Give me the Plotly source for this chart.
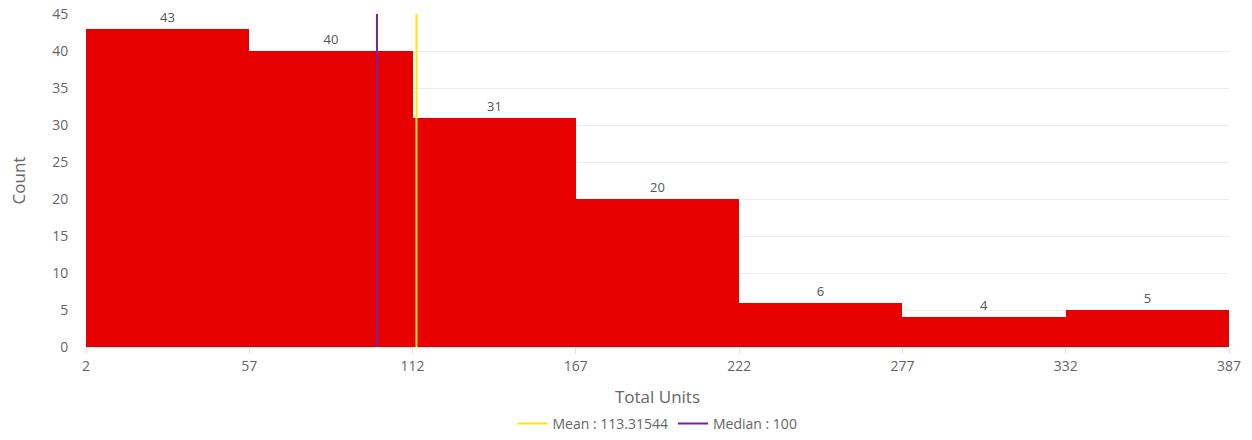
import plotly.graph_objects as go

bin_edges = [2, 57, 112, 167, 222, 277, 332, 387]
counts = [43, 40, 31, 20, 6, 4, 5]
mean_value = 113.31544
median_value = 100
y_ticks = [0, 5, 10, 15, 20, 25, 30, 35, 40, 45]

centers = [(bin_edges[i] + bin_edges[i + 1]) / 2 for i in range(len(counts))]
widths = [bin_edges[i + 1] - bin_edges[i] for i in range(len(counts))]

font_family = "Open Sans, Noto Sans, sans-serif"
gray = "#666666"

fig = go.Figure()
fig.add_trace(go.Bar(
    x=centers, y=counts, width=widths,
    marker=dict(color="#E60000", line=dict(width=0)),
    text=[str(c) for c in counts], textposition="outside",
    textfont=dict(size=13, color="#555555", family=font_family),
    cliponaxis=False, showlegend=False, hoverinfo="x+y",
))
fig.add_trace(go.Scatter(
    x=[mean_value, mean_value], y=[0, 45], mode="lines",
    line=dict(color="#FFE600", width=2),
    name="Mean : " + str(mean_value),
))
fig.add_trace(go.Scatter(
    x=[median_value, median_value], y=[0, 45], mode="lines",
    line=dict(color="#7B1FA2", width=2),
    name="Median : " + str(median_value),
))

fig.update_layout(
    width=1252, height=440,
    margin=dict(l=86, r=23, t=14, b=93, autoexpand=False),
    paper_bgcolor="white", plot_bgcolor="white",
    font=dict(family=font_family, color=gray, size=14),
    bargap=0,
    legend=dict(orientation="h", x=0.5, xanchor="center",
                yref="container", y=-0.008, yanchor="bottom",
                font=dict(size=14, color=gray), itemwidth=30),
    xaxis=dict(
        range=[bin_edges[0], bin_edges[-1]], tickvals=bin_edges,
        ticktext=[str(v) for v in bin_edges], automargin=False,
        showgrid=False, zeroline=False, showline=True, linecolor="#E6E6E6",
        ticks="outside", ticklen=6, tickcolor="#E0E0E0",
        tickfont=dict(size=14, color=gray),
        title=dict(text="Total Units", font=dict(size=17, color=gray), standoff=19),
    ),
    yaxis=dict(
        range=[0, 45], tickvals=y_ticks, automargin=False,
        showgrid=True, gridcolor="#EBEBEB", zeroline=False,
        ticks="outside", ticklen=14, tickcolor="rgba(0,0,0,0)",
        tickfont=dict(size=14, color=gray),
        title=dict(text="Count", font=dict(size=17, color=gray), standoff=22),
    ),
)

fig.write_html("out.html", config={"displayModeBar": False},
               post_script="document.body.style.margin='0';")
